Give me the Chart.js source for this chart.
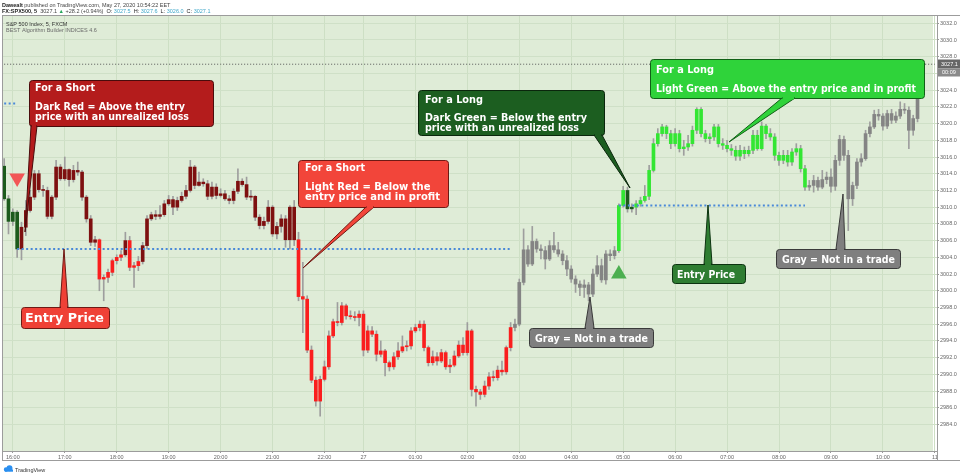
<!DOCTYPE html>
<html>
<head>
<meta charset="utf-8">
<script src="https://cdn.jsdelivr.net/npm/chart.js@4.4.0/dist/chart.umd.min.js"></script>
<style>
  html, body { margin: 0; padding: 0; background: #fff; }
  canvas { display: block; }
</style>
</head>
<body>
<canvas id="chart" width="960" height="475"></canvas>
<script>
'use strict'
// 5 minute candles, FX:SPX500
let open = [
  3014.9, 3011.0, 3008.3, 3009.4, 3005.0, 3007.6, 3009.6, 3011.2, 3014.0, 3012.1,
  3012.0, 3008.9, 3011.2, 3014.8, 3013.4, 3014.5, 3013.3, 3014.4, 3014.2, 3011.2,
  3008.6, 3005.8, 3006.1, 3001.4, 3001.6, 3002.2, 3003.6, 3004.0, 3004.3, 3006.0,
  3002.8, 3003.0, 3003.5, 3005.4, 3008.6, 3009.1, 3008.9, 3009.1, 3010.4, 3010.9,
  3010.0, 3010.8, 3011.3, 3012.0, 3014.8, 3012.6, 3013.0, 3012.8, 3011.3, 3012.4,
  3011.4, 3011.6, 3011.0, 3010.8, 3011.9, 3013.1, 3012.7, 3011.2, 3011.3, 3008.8,
  3007.8, 3008.3, 3010.0, 3006.8, 3007.7, 3008.6, 3006.1, 3010.0, 3006.1, 2999.3,
  2999.0, 2992.9, 2989.3, 2986.8, 2989.4, 2990.9, 2994.6, 2996.3, 2996.2, 2998.2,
  2997.0, 2996.9, 2996.8, 2997.2, 2992.9, 2995.2, 2994.8, 2992.4, 2992.8, 2991.4,
  2990.9, 2992.1, 2992.8, 2993.3, 2993.4, 2995.2, 2995.6, 2996.0, 2993.2, 2991.4,
  2992.1, 2991.6, 2992.6, 2990.9, 2991.1, 2992.2, 2993.5, 2992.6, 2995.2, 2988.2,
  2987.9, 2987.6, 2988.6, 2989.7, 2989.6, 2990.5, 2990.3, 2993.2, 2995.6, 2996.0,
  3001.0, 3004.9, 3003.2, 3005.9, 3005.0, 3004.8, 3003.8, 3005.4, 3004.9, 3004.4,
  3003.6, 3002.6, 3001.4, 3000.8, 3000.4, 3000.7, 2999.6, 3002.0, 3003.0, 3001.3,
  3004.4, 3004.2, 3004.8, 3010.2, 3012.0, 3009.8, 3010.0, 3010.4, 3010.8, 3011.3,
  3014.4, 3017.6, 3018.8, 3019.6, 3018.8, 3017.6, 3018.8, 3017.0, 3017.2, 3017.6,
  3019.2, 3021.7, 3018.8, 3018.2, 3018.4, 3019.6, 3017.6, 3017.4, 3017.0, 3016.8,
  3016.1, 3016.8, 3016.4, 3016.8, 3018.6, 3017.0, 3019.7, 3018.8, 3018.4, 3016.2,
  3015.6, 3016.2, 3015.4, 3016.6, 3017.0, 3014.6, 3012.4, 3012.6, 3013.2, 3012.4,
  3013.3, 3013.6, 3012.5, 3015.6, 3018.1, 3016.2, 3011.0, 3012.6, 3015.4, 3015.8,
  3018.8, 3019.6, 3021.1, 3020.9, 3019.7, 3021.2, 3020.4, 3020.9, 3021.7, 3021.6,
  3019.2, 3020.6]
let high = [
  3015.8, 3011.4, 3009.8, 3009.6, 3008.2, 3010.8, 3012.0, 3014.4, 3014.4, 3012.6,
  3012.4, 3011.4, 3015.6, 3015.1, 3016.0, 3014.6, 3015.0, 3015.4, 3014.4, 3011.4,
  3009.0, 3006.5, 3006.2, 3001.9, 3002.6, 3003.8, 3004.3, 3004.8, 3007.0, 3006.5,
  3003.4, 3004.1, 3005.8, 3009.0, 3009.4, 3009.6, 3010.2, 3010.8, 3011.4, 3011.3,
  3011.2, 3011.8, 3012.6, 3015.6, 3015.0, 3014.2, 3013.4, 3013.2, 3013.0, 3012.8,
  3012.2, 3012.0, 3011.4, 3012.2, 3014.6, 3013.4, 3013.6, 3012.0, 3011.4, 3009.1,
  3008.8, 3010.8, 3010.2, 3008.2, 3009.1, 3009.0, 3010.2, 3010.8, 3007.0, 3003.4,
  2999.4, 2993.4, 2989.7, 2989.8, 2991.6, 2995.2, 2996.6, 2998.6, 2998.6, 2998.4,
  2997.6, 2997.5, 2997.6, 2997.6, 2995.8, 2995.7, 2995.2, 2994.0, 2993.0, 2991.6,
  2992.6, 2993.8, 2994.6, 2994.0, 2995.6, 2996.0, 2996.4, 2996.4, 2993.4, 2992.8,
  2992.6, 2993.0, 2992.8, 2991.8, 2992.8, 2994.0, 2994.4, 2996.2, 2995.4, 2988.6,
  2988.2, 2989.2, 2990.2, 2990.4, 2991.0, 2991.6, 2993.4, 2996.2, 2996.6, 3001.4,
  3007.4, 3005.4, 3007.7, 3006.2, 3005.5, 3005.3, 3006.0, 3007.0, 3005.8, 3004.8,
  3004.2, 3003.0, 3001.8, 3001.2, 3001.3, 3001.0, 3002.6, 3004.2, 3003.8, 3004.8,
  3004.9, 3005.3, 3010.4, 3012.5, 3012.4, 3010.4, 3010.8, 3011.2, 3012.6, 3015.0,
  3018.2, 3019.4, 3019.9, 3019.8, 3019.2, 3019.4, 3019.2, 3018.0, 3018.6, 3019.7,
  3021.9, 3021.9, 3019.2, 3018.8, 3019.9, 3019.9, 3018.2, 3018.0, 3017.5, 3017.3,
  3017.4, 3017.2, 3017.3, 3019.2, 3019.2, 3020.2, 3019.9, 3019.4, 3018.8, 3016.6,
  3016.8, 3016.8, 3017.0, 3017.6, 3017.4, 3015.0, 3013.2, 3013.8, 3013.6, 3014.4,
  3014.2, 3014.6, 3016.2, 3018.6, 3018.5, 3016.8, 3013.0, 3015.8, 3016.4, 3019.2,
  3020.2, 3021.6, 3021.7, 3021.2, 3021.6, 3021.7, 3021.4, 3022.6, 3022.4, 3022.0,
  3021.0, 3027.6]
let low = [
  3010.8, 3006.8, 3007.8, 3004.0, 3003.7, 3006.6, 3009.4, 3010.9, 3011.8, 3011.3,
  3008.6, 3008.6, 3010.9, 3013.2, 3013.2, 3012.5, 3013.0, 3013.8, 3010.8, 3008.2,
  3005.4, 3005.3, 3000.0, 2998.8, 3001.0, 3001.8, 3003.2, 3003.6, 3004.1, 3002.4,
  3000.4, 3002.4, 3003.2, 3005.0, 3008.4, 3008.5, 3008.6, 3008.9, 3010.2, 3009.1,
  3009.6, 3010.6, 3011.0, 3011.8, 3012.2, 3012.5, 3012.5, 3010.9, 3011.0, 3011.0,
  3011.2, 3010.8, 3010.4, 3010.4, 3011.6, 3012.5, 3010.9, 3010.8, 3008.4, 3007.4,
  3007.4, 3008.0, 3006.5, 3006.2, 3007.0, 3005.2, 3005.0, 3005.4, 2998.8, 2995.0,
  2992.6, 2989.0, 2986.2, 2985.0, 2989.2, 2990.6, 2994.4, 2995.8, 2995.9, 2996.6,
  2996.6, 2996.4, 2995.8, 2992.2, 2992.6, 2994.5, 2991.6, 2992.1, 2989.8, 2990.4,
  2990.6, 2991.8, 2992.6, 2992.8, 2993.0, 2995.0, 2995.2, 2992.8, 2991.0, 2991.1,
  2991.1, 2991.4, 2990.6, 2990.2, 2990.9, 2992.0, 2992.3, 2992.3, 2987.4, 2986.2,
  2987.0, 2987.3, 2988.2, 2989.2, 2989.3, 2989.9, 2990.0, 2992.8, 2995.2, 2995.8,
  3000.7, 3002.9, 3003.0, 3004.6, 3003.8, 3002.6, 3003.6, 3004.6, 3004.1, 3003.1,
  3001.8, 3001.0, 2999.8, 2999.4, 2999.2, 2998.8, 2999.3, 3001.7, 3001.0, 3000.8,
  3003.6, 3003.8, 3004.6, 3010.0, 3009.4, 3009.4, 3009.1, 3010.1, 3010.6, 3010.9,
  3014.2, 3017.3, 3018.5, 3018.2, 3017.0, 3017.3, 3016.6, 3016.2, 3016.8, 3017.3,
  3018.8, 3018.4, 3017.8, 3017.6, 3018.0, 3017.2, 3016.9, 3016.6, 3016.2, 3015.6,
  3015.6, 3015.8, 3016.1, 3016.4, 3016.8, 3016.8, 3018.2, 3018.0, 3015.6, 3015.0,
  3015.2, 3014.9, 3015.0, 3016.2, 3014.2, 3012.0, 3012.0, 3011.8, 3012.0, 3012.2,
  3012.8, 3011.8, 3012.0, 3015.0, 3015.6, 3007.2, 3010.2, 3012.2, 3014.9, 3015.6,
  3018.4, 3019.4, 3020.4, 3019.2, 3019.4, 3020.0, 3020.1, 3020.6, 3021.2, 3017.0,
  3018.6, 3020.2]
let close = [
  3011.0, 3008.3, 3009.4, 3005.0, 3007.6, 3009.6, 3011.2, 3014.0, 3012.1, 3012.0,
  3008.9, 3011.2, 3014.8, 3013.4, 3014.5, 3013.3, 3014.4, 3014.2, 3011.2, 3008.6,
  3005.8, 3006.1, 3001.4, 3001.6, 3002.2, 3003.6, 3004.0, 3004.3, 3006.0, 3002.8,
  3003.0, 3003.5, 3005.4, 3008.6, 3009.1, 3008.9, 3009.1, 3010.4, 3010.9, 3010.0,
  3010.8, 3011.3, 3012.0, 3014.8, 3012.6, 3013.0, 3012.8, 3011.3, 3012.4, 3011.4,
  3011.6, 3011.0, 3010.8, 3011.9, 3013.1, 3012.7, 3011.2, 3011.3, 3008.8, 3007.8,
  3008.3, 3010.0, 3006.8, 3007.7, 3008.6, 3006.1, 3010.0, 3006.1, 2999.3, 2999.0,
  2992.9, 2989.3, 2986.8, 2989.4, 2990.9, 2994.6, 2996.3, 2996.2, 2998.2, 2997.0,
  2996.9, 2996.8, 2997.2, 2992.9, 2995.2, 2994.8, 2992.4, 2992.8, 2991.4, 2990.9,
  2992.1, 2992.8, 2993.3, 2993.4, 2995.2, 2995.6, 2996.0, 2993.2, 2991.4, 2992.1,
  2991.6, 2992.6, 2990.9, 2991.1, 2992.2, 2993.5, 2992.6, 2995.2, 2988.2, 2987.9,
  2987.6, 2988.6, 2989.7, 2989.6, 2990.5, 2990.3, 2993.2, 2995.6, 2996.0, 3001.0,
  3004.9, 3003.2, 3005.9, 3005.0, 3004.8, 3003.8, 3005.4, 3004.9, 3004.4, 3003.6,
  3002.6, 3001.4, 3000.8, 3000.4, 3000.7, 2999.6, 3002.0, 3003.0, 3001.3, 3004.4,
  3004.2, 3004.8, 3010.2, 3012.0, 3009.8, 3010.0, 3010.4, 3010.8, 3011.3, 3014.4,
  3017.6, 3018.8, 3019.6, 3018.8, 3017.6, 3018.8, 3017.0, 3017.2, 3017.6, 3019.2,
  3021.7, 3018.8, 3018.2, 3018.4, 3019.6, 3017.6, 3017.4, 3017.0, 3016.8, 3016.1,
  3016.8, 3016.4, 3016.8, 3018.6, 3017.0, 3019.7, 3018.8, 3018.4, 3016.2, 3015.6,
  3016.2, 3015.4, 3016.6, 3017.0, 3014.6, 3012.4, 3012.6, 3013.2, 3012.4, 3013.3,
  3013.6, 3012.5, 3015.6, 3018.1, 3016.2, 3011.0, 3012.6, 3015.4, 3015.8, 3018.8,
  3019.6, 3021.1, 3020.9, 3019.7, 3021.2, 3020.4, 3020.9, 3021.7, 3021.6, 3019.2,
  3020.6, 3027.1]

let tickIdx = [2, 14, 26, 38, 50, 62, 74, 83, 95, 107, 119, 131, 143, 155, 167, 179, 191, 203, 215]
let tickText = ['16:00', '17:00', '18:00', '19:00', '20:00', '21:00', '22:00', '27', '01:00', '02:00',
  '03:00', '04:00', '05:00', '06:00', '07:00', '08:00', '09:00', '10:00', '11']

let tradeStart = [0, 4, 142],
    tradeEnd = [3, 117, 185],
    tradeSide = ['long', 'short', 'long'],
    tradeEntry = [3022.4, 3005.0, 3010.2],
    lineStart = [0, 3, 142],
    lineEnd = [3, 117, 185]

let signalIdx = [3, 142],
    signalPrice = [3013.5, 3002.0],
    signalSide = ['short', 'long']

let slots = 216,
    lastClose = close[close.length - 1]

let candleColor = function (i) {
    for (let t = 0; t < tradeStart.length; t++) {
        if (i >= tradeStart[t] && i <= tradeEnd[t]) {
            if (tradeSide[t] === 'long') return close[i] >= tradeEntry[t] ? '#33e633' : '#1c5a1c'
            return close[i] <= tradeEntry[t] ? '#fa1e1e' : '#7e1010'
        }
    }
    return '#848484'
}

let categories = []
for (let i = 0; i < slots; i++) categories.push(i)

let bodies = open.map((o, i) => [o, close[i]])
let wicks = low.map((l, i) => [l, high[i]])
let colors = close.map((c, i) => candleColor(i))

let entryLines = tradeEntry.map((p, t) => {
    let d = []
    for (let i = 0; i < slots; i++) d.push(i >= lineStart[t] && i <= lineEnd[t] ? p : null)
    return d
})

let sigData = [], sigRot = [], sigColor = []
for (let i = 0; i < slots; i++) {
    let k = signalIdx.indexOf(i)
    sigData.push(k < 0 ? null : signalPrice[k])
    sigRot.push(k >= 0 && signalSide[k] === 'short' ? 180 : 0)
    sigColor.push(k >= 0 && signalSide[k] === 'short' ? '#f25656' : '#4caf50')
}

let callouts = [
    {box: [29, 80, 184, 46], fill: '#b41c1c', edge: '#4a0c0c', base: [31, 37, 126], tip: [25, 232], size: 10,
        lines: [['For a Short', 35, 91, 60], ['Dark Red = Above the entry', 35, 110, 150], ['price with an unrealized loss', 35, 119.5, 154]]},
    {box: [21, 307, 88, 21], fill: '#ef4136', edge: '#6e1a14', base: [60, 68, 307], tip: [64, 249], size: 13,
        lines: [['Entry Price', 25, 322, 79]]},
    {box: [298, 160, 150, 47], fill: '#f2453a', edge: '#6e1a14', base: [366, 374, 207], tip: [303, 268], size: 10,
        lines: [['For a Short', 305, 171, 60], ['Light Red = Below the', 305, 190, 126], ['entry price and in profit', 305, 199.5, 135]]},
    {box: [418, 90, 186, 45], fill: '#1c5e20', edge: '#0a260c', base: [594, 602, 135], tip: [630, 188], size: 10,
        lines: [['For a Long', 425, 103, 58], ['Dark Green = Below the entry', 425, 121, 162], ['price with an unrealized loss', 425, 130.5, 154]]},
    {box: [650, 59, 274, 39], fill: '#2fd33a', edge: '#116016', base: [782, 795, 98], tip: [729, 142], size: 10,
        lines: [['For a Long', 656, 73, 58], ['Light Green = Above the entry price and in profit', 656, 92, 260]]},
    {box: [672, 264, 73, 19], fill: '#2f7d32', edge: '#0c3310', base: [704, 712, 264], tip: [708, 205], size: 10,
        lines: [['Entry Price', 677, 277.5, 58]]},
    {box: [529, 328, 124, 19], fill: '#7f7f7f', edge: '#3a3a3a', base: [585, 594, 328], tip: [590, 297], size: 10,
        lines: [['Gray = Not in a trade', 535, 341.5, 113]]},
    {box: [776, 249, 124, 19], fill: '#7f7f7f', edge: '#3a3a3a', base: [836, 845, 249], tip: [843, 194], size: 10,
        lines: [['Gray = Not in a trade', 782, 262.5, 113]]}
]

let drawCallout = function (ctx, c) {
    let [x, y, w, h] = c.box
    ctx.save()
    ctx.lineWidth = 1
    ctx.beginPath()
    ctx.roundRect(x + 0.5, y + 0.5, w, h, 3)
    ctx.fillStyle = c.fill
    ctx.fill()
    ctx.strokeStyle = c.edge
    ctx.stroke()
    ctx.beginPath()
    ctx.moveTo(c.base[0], c.base[2])
    ctx.lineTo(c.tip[0], c.tip[1])
    ctx.lineTo(c.base[1], c.base[2])
    ctx.closePath()
    ctx.fill()
    ctx.stroke()
    ctx.fillRect(c.base[0] + 1, c.base[2] - 1, c.base[1] - c.base[0] - 2, 2.5)
    ctx.fillStyle = '#fff'
    ctx.font = 'bold ' + c.size + 'px "DejaVu Sans"'
    ctx.textBaseline = 'alphabetic'
    c.lines.forEach(l => ctx.fillText(l[0], l[1], l[2], l[3]))
    ctx.restore()
}

let chartDecor = {
    id: 'chartDecor',
    beforeDraw(chart) {
        let ctx = chart.ctx, a = chart.chartArea
        ctx.save()
        ctx.fillStyle = '#fff'
        ctx.fillRect(0, 0, chart.width, chart.height)
        ctx.fillStyle = '#dfecd7'
        ctx.fillRect(a.left, a.top, a.right - a.left - 4, a.bottom - a.top)
        ctx.restore()
    },
    afterDatasetsDraw(chart) {
        callouts.forEach(c => drawCallout(chart.ctx, c))
    },
    afterDraw(chart) {
        let ctx = chart.ctx, a = chart.chartArea, y = chart.scales.y
        ctx.save()
        ctx.strokeStyle = '#9c9c9c'
        ctx.lineWidth = 1
        ctx.beginPath()
        ctx.moveTo(2.5, a.top - 0.5); ctx.lineTo(2.5, 460.5)
        ctx.moveTo(2, a.top - 0.5); ctx.lineTo(960, a.top - 0.5)
        ctx.moveTo(2, 460.5); ctx.lineTo(960, 460.5)
        ctx.moveTo(a.right + 0.5, a.top); ctx.lineTo(a.right + 0.5, 460.5)
        ctx.stroke()

        // price label on the axis
        let py = Math.round(y.getPixelForValue(lastClose))
        ctx.fillStyle = '#666'
        ctx.fillRect(a.right + 1, py - 4.5, 22, 9)
        ctx.fillStyle = '#8a8a8a'
        ctx.fillRect(a.right + 1, py + 4.5, 22, 8)
        ctx.fillStyle = '#fff'
        ctx.font = '5.5px "Liberation Sans"'
        ctx.textBaseline = 'middle'
        ctx.fillText(lastClose.toFixed(1), a.right + 4, py)
        ctx.fillText('00:09', a.right + 5, py + 8.5)

        // header
        ctx.textBaseline = 'alphabetic'
        ctx.fillStyle = '#222'
        ctx.font = 'bold 5.5px "Liberation Sans"'
        ctx.fillText('Dawealt', 2, 7)
        let w = ctx.measureText('Dawealt ').width
        ctx.font = '5.5px "Liberation Sans"'
        ctx.fillStyle = '#444'
        ctx.fillText('published on TradingView.com, May 27, 2020 10:54:22 EET', 2 + w, 7)

        let parts = [
            ['FX:SPX500, 5  ', '#222', true], ['3027.1 ', '#444'], ['\u25B2 ', '#26a65b'], ['+28.2 (+0.94%)  ', '#444'],
            ['O: ', '#222'], ['3027.5  ', '#3fa7c9'], ['H: ', '#222'], ['3027.6  ', '#3fa7c9'],
            ['L: ', '#222'], ['3026.0  ', '#3fa7c9'], ['C: ', '#222'], ['3027.1', '#3fa7c9']]
        let x = 2
        parts.forEach(p => {
            ctx.font = (p[2] ? 'bold ' : '') + '5.5px "Liberation Sans"'
            ctx.fillStyle = p[1]
            ctx.fillText(p[0], x, 13)
            x += ctx.measureText(p[0]).width
        })

        ctx.font = '5.5px "Liberation Sans"'
        ctx.fillStyle = '#333'
        ctx.fillText('S&P 500 Index, 5, FXCM', 6, 26)
        ctx.fillStyle = '#6a6a6a'
        ctx.fillText('BEST Algorithm Builder INDICES 4.6', 6, 32)

        // footer logo
        ctx.fillStyle = '#2a8ff0'
        ctx.beginPath()
        ctx.arc(6, 469.5, 2.2, 0, Math.PI * 2)
        ctx.arc(9.5, 468.2, 3, 0, Math.PI * 2)
        ctx.fill()
        ctx.fillRect(5, 469.5, 8, 2.2)
        ctx.fillStyle = '#333'
        ctx.font = '5.5px "Liberation Sans"'
        ctx.fillText('TradingView', 15, 471.5)
        ctx.restore()
    }
}

let datasets = [
    {type: 'bar', data: wicks, backgroundColor: '#9e9e9e', barThickness: 1, grouped: false, order: 5},
    {type: 'bar', data: bodies, backgroundColor: colors, barThickness: 3, minBarLength: 1, grouped: false, order: 4},
    {type: 'line', data: categories.map(() => lastClose), borderColor: '#555', borderWidth: 1,
        borderDash: [1, 2], pointRadius: 0, order: 3},
    {type: 'line', data: sigData, showLine: false, pointStyle: 'triangle', pointRadius: 9,
        pointRotation: sigRot, pointBackgroundColor: sigColor, pointBorderWidth: 0, order: 0}
]
entryLines.forEach(d => datasets.push({
    type: 'line', data: d, borderColor: '#4a89d8', borderWidth: 2, borderDash: [2, 2.5],
    pointRadius: 0, spanGaps: false, order: 1
}))

let noPad = function (s) {
    s.paddingLeft = 0
    s.paddingRight = 0
    s.paddingTop = 0
    s.paddingBottom = 0
}

let myChart = new Chart(document.getElementById('chart'), {
    type: 'bar',
    data: {labels: categories, datasets: datasets},
    options: {
        responsive: false,
        devicePixelRatio: 1,
        animation: false,
        layout: {autoPadding: false, padding: {top: 16, left: 2, right: 0, bottom: 15}},
        plugins: {legend: {display: false}, tooltip: {enabled: false}},
        scales: {
            x: {
                type: 'category',
                offset: true,
                afterFit: s => { s.height = 9; noPad(s) },
                grid: {
                    offset: false,
                    tickLength: 2,
                    color: c => tickIdx.indexOf(c.index) < 0 ? 'rgba(0,0,0,0)' : '#cddfc4',
                    tickColor: c => tickIdx.indexOf(c.index) < 0 ? 'rgba(0,0,0,0)' : '#999'
                },
                border: {color: '#9c9c9c'},
                ticks: {
                    autoSkip: false, maxRotation: 0, minRotation: 0, padding: 1,
                    color: '#666', font: {size: 5.5, family: 'Liberation Sans'},
                    callback: (v, i) => {
                        let k = tickIdx.indexOf(i)
                        return k < 0 ? '' : tickText[k]
                    }
                }
            },
            y: {
                position: 'right',
                min: 2980.83,
                max: 3032.87,
                afterFit: s => { s.width = 23; noPad(s) },
                grid: {color: '#cfe0c7', tickColor: '#999', tickLength: 2},
                border: {color: '#9c9c9c'},
                ticks: {
                    stepSize: 2, includeBounds: false, autoSkip: false, padding: 1,
                    color: '#666', font: {size: 5.5, family: 'Liberation Sans'},
                    callback: v => v < 2983 ? null : v.toFixed(1)
                }
            }
        }
    },
    plugins: [chartDecor]
})
</script>
</body>
</html>
